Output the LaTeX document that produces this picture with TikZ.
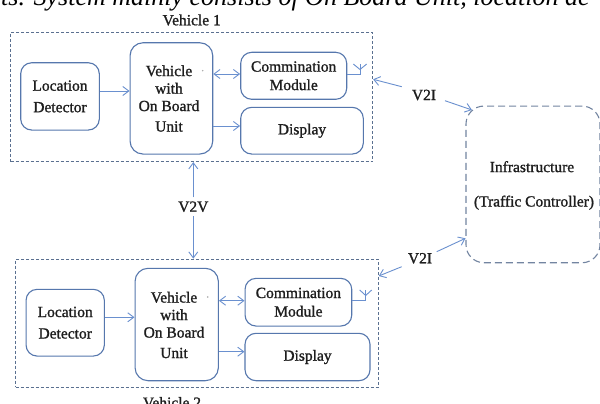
\documentclass[tikz,border=0pt]{standalone}
\usepackage{fontspec}
\setmainfont{Liberation Serif}
\newfontfamily\dfont[FakeBold=1.2]{Liberation Serif}
\usetikzlibrary{arrows.meta}
\definecolor{boxc}{HTML}{5677AD}
\definecolor{dashc}{HTML}{5A7090}
\definecolor{arrc}{HTML}{6A90CF}
\definecolor{txtc}{HTML}{1E1E1E}
\tikzset{
  rbox/.style={draw=boxc, line width=1.1pt, rounded corners=11pt, inner sep=0pt, text=txtc, font=\dfont\fontsize{15.5}{18.5}\selectfont, align=center},
  vbox/.style={draw=dashc, line width=0.9pt, dash pattern=on 3pt off 2pt, inner sep=0pt},
  ibox/.style={draw=dashc!85!white, line width=1.1pt, dash pattern=on 7pt off 4pt, rounded corners=18pt, inner sep=0pt},
  lbl/.style={text=txtc, font=\dfont\fontsize{15.5}{18.5}\selectfont, inner sep=0pt, align=center},
  arr/.style={draw=arrc, line width=0.9pt, -{Straight Barb[length=6pt,width=9pt]}},
  ant/.style={draw=arrc, line width=0.9pt},
}
\begin{document}
\begin{tikzpicture}[x=1pt,y=-1pt]
\useasboundingbox (0,0) rectangle (600,404);
\clip (0,0) rectangle (600,404);
\fill[white] (0,0) rectangle (600,404);

% cut-off caption line at the top
\node[anchor=base west, inner sep=0pt, font=\fontsize{26}{30}\selectfont\itshape, text=black] (cap) at (1,6) {ts. System mainly consists of On Board Unit, location de};

% ---------------- Vehicle 1 ----------------
\node[vbox, minimum width=362pt, minimum height=129.4pt] (v1) at (191.7,97) {};
\node[lbl] (v1l) at (191.7,20) {Vehicle 1};
\node[rbox, minimum width=78.6pt, minimum height=67.3pt] (ld1) at (60,96.4) {Location\\[3pt]Detector};
\node[rbox, minimum width=82.7pt, minimum height=111.3pt, rounded corners=13pt] (obu1) at (171.4,98.4) {};
\node[lbl, align=center] (obu1t) at (169,98.5) {Vehicle\\[-1pt]with\\[-1pt]On Board\\[2pt]Unit};
\fill[gray!70] (202.7,70.7) circle (0.8pt);
\node[rbox, minimum width=106pt, minimum height=47pt] (cm1) at (293.7,75.8) {Commination\\Module};
\node[rbox, minimum width=122.6pt, minimum height=46.7pt] (ds1) at (302,130.7) {Display};

\draw[arr] (ld1.east |- 0,91) -- (obu1.west |- 0,91);
\draw[arr, {Straight Barb[length=6pt,width=9pt]}-{Straight Barb[length=6pt,width=9pt]}] (obu1.east |- 0,74) -- (cm1.west |- 0,74);
\draw[arr] (obu1.east |- 0,126) -- (ds1.west |- 0,126);
\draw[ant] (cm1.east |- 0,74) -- (360,74) -- (360,64);
\draw[ant] (353.3,64) -- (360,69.5) -- (366.7,64);

% ---------------- Vehicle 2 ----------------
\node[vbox, minimum width=362.6pt, minimum height=128.3pt] (v2) at (197,323.2) {};
\node[lbl] (v2l) at (172,402.5) {Vehicle 2};
\node[rbox, minimum width=78.3pt, minimum height=66.7pt] (ld2) at (65.2,322.7) {Location\\[3pt]Detector};
\node[rbox, minimum width=83.3pt, minimum height=112.4pt, rounded corners=13pt] (obu2) at (176.7,324.5) {};
\node[lbl, align=center] (obu2t) at (174,325) {Vehicle\\[-1pt]with\\[-1pt]On Board\\[2pt]Unit};
\fill[gray!70] (207.7,297) circle (0.8pt);
\node[rbox, minimum width=106.7pt, minimum height=47.7pt] (cm2) at (298.4,302.2) {Commination\\Module};
\node[rbox, minimum width=125pt, minimum height=47.4pt] (ds2) at (307.5,357) {Display};

\draw[arr] (ld2.east |- 0,317.3) -- (obu2.west |- 0,317.3);
\draw[arr, {Straight Barb[length=6pt,width=9pt]}-{Straight Barb[length=6pt,width=9pt]}] (obu2.east |- 0,300.7) -- (cm2.west |- 0,300.7);
\draw[arr] (obu2.east |- 0,351.7) -- (ds2.west |- 0,351.7);
\draw[ant] (cm2.east |- 0,300.7) -- (365.7,300.7) -- (365.7,290);
\draw[ant] (359.7,290) -- (365.7,295.5) -- (371.7,290);

% ---------------- Infrastructure ----------------
\node[ibox, minimum width=134pt, minimum height=156.7pt] (inf) at (533,184.4) {};
\node[lbl] (inft1) at (532,166.7) {Infrastructure};
\node[lbl] (inft2) at (534,202.7) {(Traffic Controller)};

% ---------------- links ----------------
\node[lbl] (v2v) at (193.3,206.7) {V2V};
\draw[arr] (v2v.north) ++(0,-4) -- (v1.south -| v2v);
\draw[arr] (v2v.south) ++(0,4) -- (v2.north -| v2v);

\node[lbl] (v2ia) at (424,95) {V2I};
\coordinate (v2ia1) at (401.7,86.7);
\coordinate (v2ia2) at (445,100.7);
\coordinate (infa) at (472,110);
\draw[arr] (v2ia1) -- (v1.east |- 0,79.3);
\draw[arr] (v2ia2) -- (infa);

\node[lbl] (v2ib) at (420,258.3) {V2I};
\coordinate (v2ib1) at (436.7,251.7);
\coordinate (v2ib2) at (401.7,266.7);
\coordinate (infb) at (465.5,238.3);
\draw[arr] (v2ib1) -- (infb);
\draw[arr] (v2ib2) -- (v2.east |- 0,276);
\end{tikzpicture}
\end{document}
